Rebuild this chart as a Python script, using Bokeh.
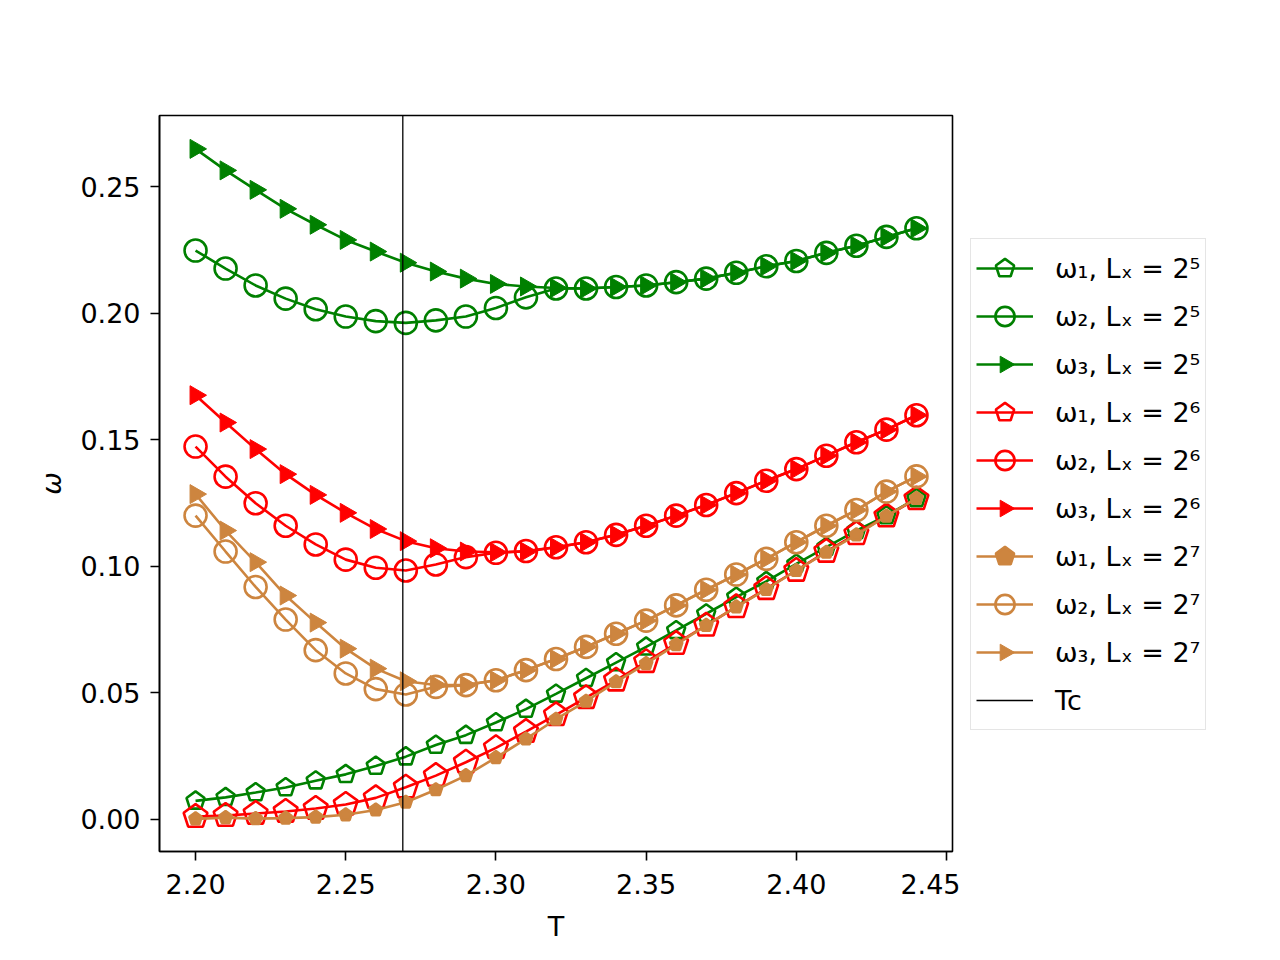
import numpy as np
from bokeh.plotting import figure
from bokeh.layouts import row
from bokeh.models import Range1d, FixedTicker, NumeralTickFormatter, Legend, LegendItem
from bokeh.embed import file_html
from bokeh.resources import INLINE

# ---------------- data ----------------
T = [2.20, 2.21, 2.22, 2.23, 2.24, 2.25, 2.26, 2.27, 2.28, 2.29, 2.30, 2.31, 2.32,
     2.33, 2.34, 2.35, 2.36, 2.37, 2.38, 2.39, 2.40, 2.41, 2.42, 2.43, 2.44]
TC = 2.269

w1_L32 = [0.0072, 0.0086, 0.0105, 0.0125, 0.0152, 0.0177, 0.0210, 0.0247, 0.0293, 0.0332, 0.0382, 0.0435, 0.0495,
          0.0557, 0.0619, 0.0681, 0.0746, 0.0812, 0.0878, 0.0940, 0.1009, 0.1075, 0.1141, 0.1200, 0.1268]
w2_L32 = [0.2248, 0.2177, 0.2110, 0.2058, 0.2016, 0.1987, 0.1969, 0.1962, 0.1972, 0.1987, 0.2021, 0.2063, 0.2098,
          0.2098, 0.2104, 0.2110, 0.2123, 0.2137, 0.2160, 0.2186, 0.2207, 0.2239, 0.2267, 0.2302, 0.2336]
w3_L32 = [0.2650, 0.2565, 0.2488, 0.2413, 0.2350, 0.2290, 0.2244, 0.2200, 0.2165, 0.2137, 0.2116, 0.2106, 0.2100,
          0.2098, 0.2104, 0.2110, 0.2123, 0.2137, 0.2160, 0.2186, 0.2207, 0.2239, 0.2267, 0.2302, 0.2336]

w1_L64 = [0.0010, 0.0014, 0.0022, 0.0030, 0.0042, 0.0058, 0.0084, 0.0126, 0.0172, 0.0225, 0.0282, 0.0346, 0.0412,
          0.0480, 0.0549, 0.0622, 0.0694, 0.0766, 0.0839, 0.0911, 0.0983, 0.1058, 0.1128, 0.1198, 0.1266]
w2_L64 = [0.1473, 0.1354, 0.1249, 0.1160, 0.1086, 0.1026, 0.0994, 0.0983, 0.1007, 0.1036, 0.1053, 0.1060, 0.1075,
          0.1095, 0.1124, 0.1160, 0.1200, 0.1242, 0.1289, 0.1338, 0.1384, 0.1437, 0.1490, 0.1540, 0.1597]
w3_L64 = [0.1676, 0.1568, 0.1463, 0.1364, 0.1282, 0.1211, 0.1147, 0.1099, 0.1071, 0.1058, 0.1055, 0.1058, 0.1075,
          0.1095, 0.1124, 0.1160, 0.1200, 0.1242, 0.1289, 0.1338, 0.1384, 0.1437, 0.1490, 0.1540, 0.1597]

w1_L128 = [0.0001, 0.0006, 0.0002, 0.0004, 0.0008, 0.0017, 0.0036, 0.0067, 0.0116, 0.0172, 0.0243, 0.0317, 0.0395,
           0.0466, 0.0543, 0.0615, 0.0690, 0.0766, 0.0839, 0.0908, 0.0983, 0.1055, 0.1124, 0.1198, 0.1268]
w2_L128 = [0.1200, 0.1058, 0.0918, 0.0789, 0.0668, 0.0576, 0.0514, 0.0493, 0.0523, 0.0530, 0.0549, 0.0589, 0.0633,
           0.0681, 0.0733, 0.0785, 0.0845, 0.0907, 0.0967, 0.1029, 0.1095, 0.1160, 0.1222, 0.1295, 0.1355]
w3_L128 = [0.1285, 0.1141, 0.1016, 0.0884, 0.0777, 0.0674, 0.0595, 0.0545, 0.0530, 0.0530, 0.0549, 0.0589, 0.0633,
           0.0681, 0.0733, 0.0785, 0.0845, 0.0907, 0.0967, 0.1029, 0.1095, 0.1160, 0.1222, 0.1295, 0.1355]

X_TICKS = [2.20, 2.25, 2.30, 2.35, 2.40, 2.45]
Y_TICKS = [0.00, 0.05, 0.10, 0.15, 0.20, 0.25]

LABELS = ["ω₁, Lₓ = 2⁵", "ω₂, Lₓ = 2⁵", "ω₃, Lₓ = 2⁵",
          "ω₁, Lₓ = 2⁶", "ω₂, Lₓ = 2⁶", "ω₃, Lₓ = 2⁶",
          "ω₁, Lₓ = 2⁷", "ω₂, Lₓ = 2⁷", "ω₃, Lₓ = 2⁷", "Tc"]

GREEN = "#008000"
RED = "#ff0000"
PERU = "#cd853f"

X_MIN, X_MAX = 2.188, 2.452
Y_MIN, Y_MAX = -0.0128, 0.2782

FONT = "DejaVu Sans"
FS = "27px"
LW = 2.6

# ---------------- main plot ----------------
p = figure(width=960, height=944, output_backend="svg", toolbar_location=None,
           x_range=Range1d(X_MIN, X_MAX), y_range=Range1d(Y_MIN, Y_MAX),
           min_border_left=159, min_border_right=8, min_border_top=115, min_border_bottom=92,
           background_fill_color="white", border_fill_color="white")

p.xgrid.visible = False
p.ygrid.visible = False
p.outline_line_color = "black"
p.outline_line_width = 1.6
p.outline_line_alpha = 1.0

for ax in (p.xaxis[0], p.yaxis[0]):
    ax.axis_line_width = 1.6
    ax.axis_line_color = "black"
    ax.major_tick_line_width = 1.6
    ax.major_tick_line_color = "black"
    ax.major_tick_out = 9
    ax.major_tick_in = 0
    ax.minor_tick_out = 0
    ax.minor_tick_in = 0
    ax.major_label_text_font = FONT
    ax.major_label_text_font_size = FS
    ax.major_label_text_color = "black"
    ax.axis_label_text_font = FONT
    ax.axis_label_text_font_size = FS
    ax.axis_label_text_color = "black"
    ax.formatter = NumeralTickFormatter(format="0.00")

p.xaxis.ticker = FixedTicker(ticks=X_TICKS)
p.yaxis.ticker = FixedTicker(ticks=Y_TICKS)
p.xaxis.major_label_standoff = 13
p.yaxis.major_label_standoff = 10
p.xaxis.axis_label = "T"
p.xaxis.axis_label_text_font_style = "normal"
p.xaxis.axis_label_standoff = 14
p.yaxis.axis_label = "ω"
p.yaxis.axis_label_text_font_style = "italic"
p.yaxis.axis_label_standoff = 10

# ---------------- legend panel (same series, outside its visible range) ----------------
q = figure(width=304, height=944, output_backend="svg", toolbar_location=None,
           x_range=Range1d(0, 1), y_range=Range1d(0, 1),
           x_axis_type=None, y_axis_type=None, min_border=0,
           outline_line_color=None, background_fill_color="white", border_fill_color="white")

items = []


def add_series(vals, color, kind, size, label):
    p.line(T, vals, line_color=color, line_width=LW)
    lq = q.line(T, vals, line_color=color, line_width=LW)
    if kind == "pent_open" or kind == "pent_fill":
        filled = kind == "pent_fill"
        kw = dict(line_color=color, line_width=LW,
                  fill_color=color if filled else None, fill_alpha=1.0 if filled else 0.0)
        p.ngon(x=T, y=vals, radius=size, radius_units="screen", n=5, angle=0, **kw)
        mq = q.ngon(x=T, y=vals, radius=size, radius_units="screen", n=5, angle=0, **kw)
    elif kind == "circle":
        kw = dict(line_color=color, line_width=LW, fill_color=None)
        p.scatter(T, vals, marker="circle", size=size, **kw)
        mq = q.scatter(T, vals, marker="circle", size=size, **kw)
    else:
        kw = dict(line_color=color, line_width=1, fill_color=color)
        p.scatter(T, vals, marker="triangle", size=size, angle=-np.pi / 2, **kw)
        mq = q.ngon(x=T, y=vals, radius=8, radius_units="screen", n=3, angle=-np.pi / 2, **kw)
    items.append(LegendItem(label=label, renderers=[lq, mq]))


add_series(w1_L32, GREEN, "pent_open", 9.5, LABELS[0])
add_series(w2_L32, GREEN, "circle", 22, LABELS[1])
add_series(w3_L32, GREEN, "tri", 19, LABELS[2])
add_series(w1_L64, RED, "pent_open", 12.5, LABELS[3])
add_series(w2_L64, RED, "circle", 22, LABELS[4])
add_series(w3_L64, RED, "tri", 19, LABELS[5])
add_series(w1_L128, PERU, "pent_fill", 6.5, LABELS[6])
add_series(w2_L128, PERU, "circle", 22, LABELS[7])
add_series(w3_L128, PERU, "tri", 19, LABELS[8])

p.ray(x=[TC], y=[Y_MIN], length=0, angle=np.pi / 2, line_color="black", line_width=1.3)
tq = q.ray(x=[TC], y=[Y_MIN], length=0, angle=np.pi / 2, line_color="black", line_width=1.3)
items.append(LegendItem(label=LABELS[9], renderers=[tq]))

legend = Legend(items=items, location=(10, 121))
legend.label_text_font = FONT
legend.label_text_font_size = FS
legend.label_text_color = "black"
legend.glyph_width = 57
legend.glyph_height = 48
legend.label_height = 48
legend.spacing = 0
legend.padding = 5
legend.margin = 0
legend.label_standoff = 22
legend.border_line_color = "#cccccc"
legend.border_line_width = 1.5
legend.background_fill_color = "white"
legend.background_fill_alpha = 0.8
q.add_layout(legend)

layout = row(p, q)
open("out.html", "w").write(file_html(layout, INLINE))
